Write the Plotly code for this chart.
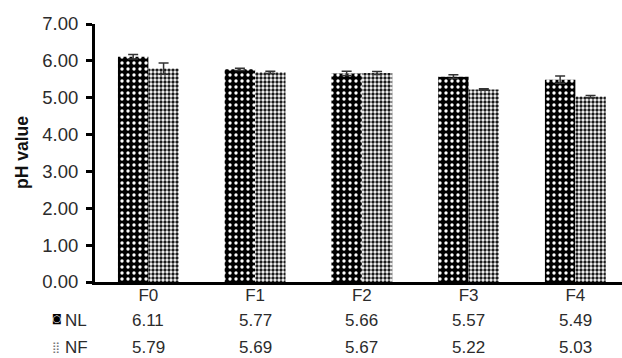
import plotly.graph_objects as go

categories = ["F0", "F1", "F2", "F3", "F4"]
nl_values = [6.11, 5.77, 5.66, 5.57, 5.49]
nf_values = [5.79, 5.69, 5.67, 5.22, 5.03]
nl_errors = [0.06, 0.03, 0.06, 0.05, 0.10]
nf_errors = [0.15, 0.03, 0.04, 0.02, 0.03]
y_ticks = [0, 1, 2, 3, 4, 5, 6, 7]
series_names = ["NL", "NF"]

W, H = 622, 358
L, T, B = 95, 24, 76
TXT = "#2b2b2b"

fig = go.Figure()
fig.add_trace(go.Bar(
    x=categories, y=nl_values, name=series_names[0],
    marker=dict(color="black", line=dict(width=0),
                pattern=dict(shape=".", bgcolor="black", fgcolor="white",
                             size=6, solidity=0.25, fillmode="replace")),
    error_y=dict(type="data", array=nl_errors, color="#333", thickness=1.5, width=5),
))
fig.add_trace(go.Bar(
    x=categories, y=nf_values, name=series_names[1],
    marker=dict(color="white", line=dict(width=0),
                pattern=dict(shape=".", bgcolor="white", fgcolor="#1a1a1a",
                             size=4, solidity=0.55, fillmode="replace")),
    error_y=dict(type="data", array=nf_errors, color="#333", thickness=1.5, width=5),
))

plot_h = H - T - B
def py(pix):
    # convert pixel y (from top of window) to paper coords
    return (H - B - pix) / plot_h

annotations = []
rows = [(series_names[0], nl_values, 320), (series_names[1], nf_values, 347)]
for name, vals, ypix in rows:
    for c, v in zip(categories, vals):
        annotations.append(dict(x=c, xref="x", y=py(ypix), yref="paper",
                                text=f"{v:.2f}", showarrow=False,
                                font=dict(family="Liberation Sans, Arial", size=17, color=TXT),
                                xanchor="center", yanchor="middle"))
    annotations.append(dict(x=(76 - L) / (W - L), xref="paper", y=py(ypix), yref="paper",
                            text=name, showarrow=False, xanchor="center", yanchor="middle",
                            font=dict(family="Liberation Sans, Arial", size=17, color=TXT)))
# legend keys
annotations.append(dict(x=(57 - L) / (W - L), xref="paper", y=py(319), yref="paper",
                        text="◙", showarrow=False, xanchor="center", yanchor="middle",
                        font=dict(family="DejaVu Sans", size=10, color="black")))
annotations.append(dict(x=(56 - L) / (W - L), xref="paper", y=py(347), yref="paper",
                        text="⣿", showarrow=False, xanchor="center", yanchor="middle",
                        font=dict(family="DejaVu Sans", size=11, color="#777")))
# y axis title
annotations.append(dict(x=(22 - L) / (W - L), xref="paper", y=0.5, yref="paper",
                        text="<b>pH value</b>", showarrow=False, textangle=-90,
                        xanchor="center", yanchor="middle",
                        font=dict(family="Liberation Sans, Arial", size=17.5, color="#111")))

fig.update_layout(
    width=W, height=H,
    margin=dict(l=L, r=0, t=T, b=B, pad=0),
    paper_bgcolor="white", plot_bgcolor="white",
    barmode="group", bargap=0.43, bargroupgap=0,
    showlegend=False,
    annotations=annotations,
    xaxis=dict(range=[-0.5, 4.437], showgrid=False, zeroline=False,
               showline=True, linecolor="black", linewidth=3,
               ticks="", tickfont=dict(family="Liberation Sans, Arial", size=17, color=TXT),
               ticklabelstandoff=-4),
    yaxis=dict(range=[0, 7], tickvals=y_ticks, tickformat=".2f",
               showgrid=False, zeroline=False,
               showline=True, linecolor="black", linewidth=3,
               ticks="outside", ticklen=6, tickwidth=3, tickcolor="black",
               ticklabelstandoff=4,
               tickfont=dict(family="Liberation Sans, Arial", size=18.5, color=TXT)),
    font=dict(family="Liberation Sans, Arial"),
)

fig.write_html("out.html")
